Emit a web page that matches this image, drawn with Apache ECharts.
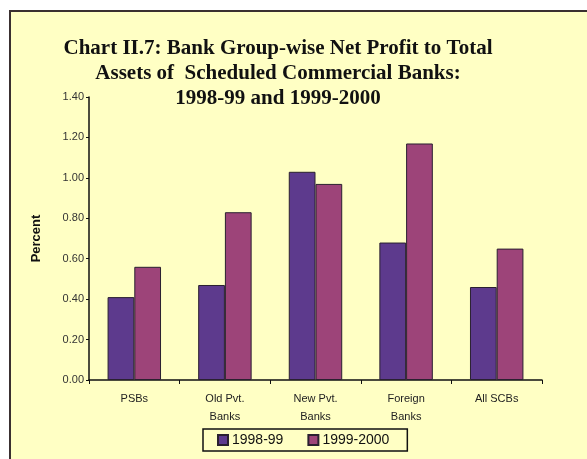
<!DOCTYPE html>
<html>
<head>
    <meta charset="utf-8">
    <title>chart</title>
    <script src="https://cdn.jsdelivr.net/npm/echarts@6/dist/echarts.min.js"></script>
    <style>
        html, body {
            margin: 0;
            padding: 0;
            background: #ffffff;
        }
        #main {
            width: 587px;
            height: 459px;
        }
    </style>
</head>
<body>
<div id="main"></div>
<script>
    // bank groups
    var categories = ['PSBs', 'Old Pvt.\nBanks', 'New Pvt.\nBanks', 'Foreign\nBanks', 'All SCBs'];
    // net profit to total assets, percent
    var values9899 = [0.41, 0.47, 1.03, 0.68, 0.46];
    var values9900 = [0.56, 0.83, 0.97, 1.17, 0.65];
    var yTicks = ['0.00', '0.20', '0.40', '0.60', '0.80', '1.00', '1.20', '1.40'];

    var chart = echarts.init(document.getElementById('main'));
    chart.setOption({
        animation: false,
        backgroundColor: 'transparent',
        graphic: [{
            type: 'rect',
            z: -10,
            shape: { x: 10, y: 11, width: 600, height: 480 },
            style: { fill: '#ffffc4', stroke: '#3a3030', lineWidth: 2 }
        }],
        title: {
            text: 'Chart II.7: Bank Group-wise Net Profit to Total\nAssets of  Scheduled Commercial Banks:\n1998-99 and 1999-2000',
            left: 273,
            textAlign: 'center',
            top: 31,
            textStyle: {
                fontFamily: 'Liberation Serif',
                fontWeight: 'bold',
                fontSize: 21,
                lineHeight: 25,
                color: '#111111'
            }
        },
        legend: {
            data: ['1998-99', '1999-2000'],
            left: 203,
            top: 429,
            padding: [4, 18, 4, 14],
            borderColor: '#111111',
            borderWidth: 1.5,
            borderRadius: 0,
            itemWidth: 10,
            itemHeight: 10,
            itemGap: 24,
            icon: 'rect',
            textStyle: { fontFamily: 'Liberation Sans', fontSize: 14, color: '#111111', padding: [0, 0, 0, -1] }
        },
        grid: { left: 89, right: 45, top: 97, bottom: 79 },
        xAxis: {
            type: 'category',
            data: categories,
            axisLine: { lineStyle: { color: '#111111', width: 1.5 } },
            axisTick: { show: true, length: 4, lineStyle: { color: '#111111' } },
            axisLabel: {
                margin: 10,
                fontFamily: 'Liberation Sans',
                fontSize: 11,
                lineHeight: 18,
                color: '#222222'
            }
        },
        yAxis: {
            type: 'value',
            min: 0,
            max: 1.4,
            interval: 0.2,
            name: 'Percent',
            nameLocation: 'middle',
            nameGap: 46,
            nameTextStyle: { fontFamily: 'Liberation Sans', fontWeight: 'bold', fontSize: 13, color: '#111111' },
            axisLine: { show: true, lineStyle: { color: '#111111', width: 1.5 } },
            axisTick: { show: true, length: 3, lineStyle: { color: '#111111' } },
            splitLine: { show: false },
            axisLabel: {
                margin: 5,
                fontFamily: 'Liberation Sans',
                fontSize: 11,
                color: '#333333',
                formatter: function (v) { return yTicks[Math.round(v / 0.2)]; }
            }
        },
        series: [{
            name: '1998-99',
            type: 'bar',
            data: values9899,
            barGap: '0%',
            barCategoryGap: '41%',
            itemStyle: { color: '#5d3a8d', borderColor: '#2a2030', borderWidth: 1 }
        }, {
            name: '1999-2000',
            type: 'bar',
            data: values9900,
            itemStyle: { color: '#9d4479', borderColor: '#2a2030', borderWidth: 1 }
        }]
    });
</script>
</body>
</html>
